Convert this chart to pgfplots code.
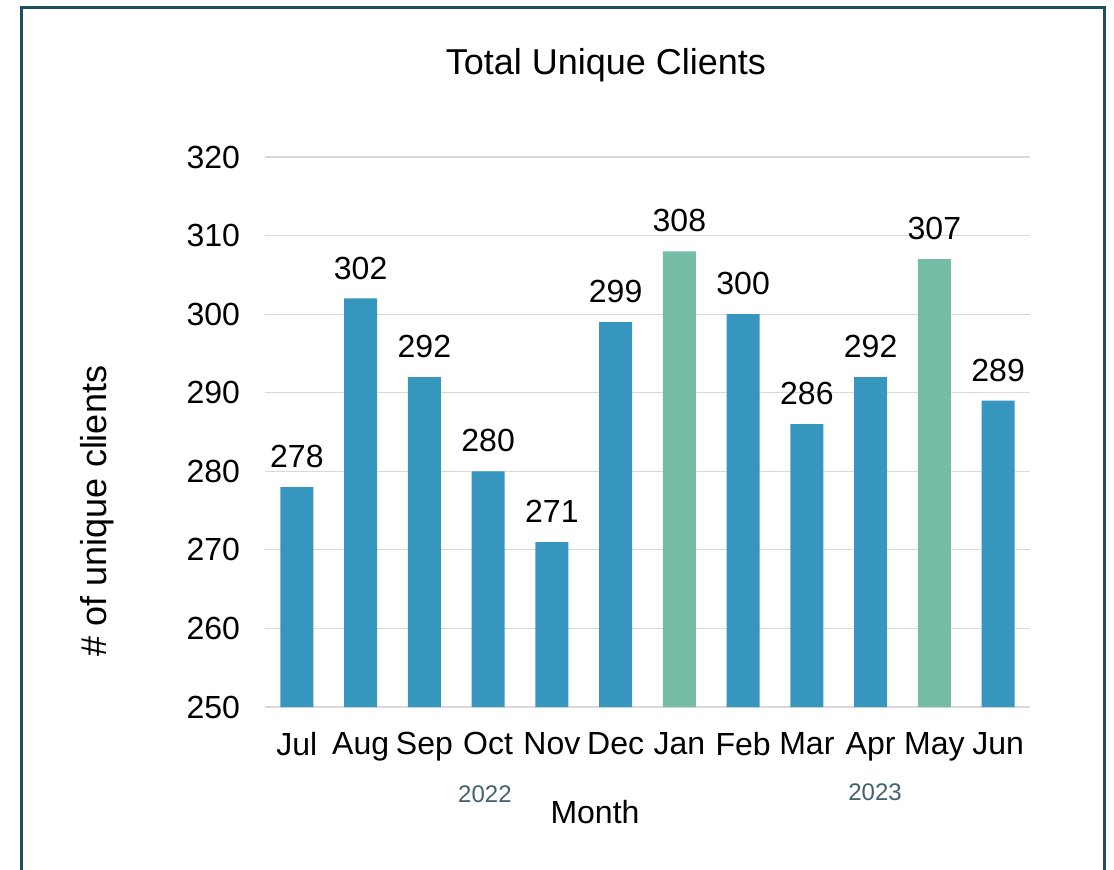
\documentclass[border=0pt]{standalone}
\usepackage{pgfplots}
\pgfplotsset{compat=1.18}
\usepackage{fontspec}
\setmainfont{Liberation Sans}
\definecolor{barblue}{HTML}{3696BD}
\definecolor{bargreen}{HTML}{75BDA7}
\definecolor{framec}{HTML}{1F4E5F}
\definecolor{yearc}{HTML}{40626E}
\definecolor{gridc}{HTML}{D9D9D9}
\begin{document}
\begin{tikzpicture}[x=0.5pt,y=0.5pt]
\path[use as bounding box] (0,0) rectangle (1114,869);
\draw[framec, line width=1.5pt] (21,-10) -- (21,861.5) -- (1104.5,861.5) -- (1104.5,-10);
\begin{axis}[
  at={(132.5pt,81pt)}, anchor=south west,
  scale only axis, width=382.5pt, height=275pt,
  ymin=250, ymax=320, ytick={250,260,...,320},
  xmin=-0.5, xmax=11.5, xtick={0,...,11},
  xticklabels={Jul,Aug,Sep,Oct,Nov,Dec,Jan,Feb,Mar,Apr,May,Jun},
  axis line style={draw=none},
  major tick length=0pt, tick style={draw=none},
  ymajorgrids, grid style={gridc, line width=0.6pt},
  ticklabel style={font=\fontsize{16}{19}\selectfont},
  /pgf/number format/assume math mode=true,
  yticklabel style={xshift=-9pt},
  xticklabel style={yshift=-9pt},
  ybar, bar width=16.5pt, bar shift=0pt,
  nodes near coords,
  every node near coord/.append style={font=\fontsize{16}{19}\selectfont, yshift=6pt, text=black},
  clip=false,
]
\addplot[fill=barblue, draw=none] coordinates {
(0,278) (1,302) (2,292) (3,280) (4,271) (5,299) (7,300) (8,286) (9,292) (11,289)};
\addplot[fill=bargreen, draw=none] coordinates {(6,308) (10,307)};
\node[font=\fontsize{12}{14}\selectfont, text=yearc] at (axis cs:2.95,238.9) {2022};
\node[font=\fontsize{12}{14}\selectfont, text=yearc] at (axis cs:9.07,239.2) {2023};
\end{axis}
\node[font=\fontsize{18}{21}\selectfont] at (606,804) {Total Unique Clients};
\node[font=\fontsize{16}{19}\selectfont] at (595,57) {Month};
\node[font=\fontsize{18}{21}\selectfont, rotate=90] at (97,358) {\# of unique clients};
\end{tikzpicture}
\end{document}
